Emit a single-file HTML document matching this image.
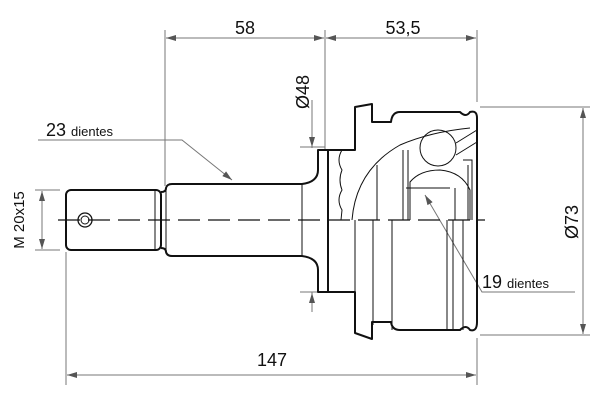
<!DOCTYPE html>
<html><head><meta charset="utf-8"><style>
html,body{margin:0;padding:0;background:#fff;}
svg{display:block;}
text{font-family:"Liberation Sans","DejaVu Sans",sans-serif;fill:#111;}
</style></head><body>
<svg width="600" height="400" viewBox="0 0 600 400" xmlns="http://www.w3.org/2000/svg">
<defs>
<marker id="a" viewBox="0 0 10 6" refX="10" refY="3" markerWidth="12" markerHeight="6" orient="auto-start-reverse" markerUnits="userSpaceOnUse"><path d="M0,0L10,3L0,6z" fill="#555"/></marker>
</defs>
<g stroke="#777" stroke-width="1" fill="none">
<line x1="165" y1="30" x2="165" y2="186"/>
<line x1="325" y1="30" x2="325" y2="150"/>
<line x1="477" y1="30" x2="477" y2="102"/>
<line x1="480" y1="107" x2="590" y2="107"/>
<line x1="480" y1="335" x2="590" y2="335"/>
<line x1="66" y1="252" x2="66" y2="385"/>
<line x1="477" y1="338" x2="477" y2="385"/>
<line x1="312" y1="100" x2="312" y2="148"/>
<line x1="312" y1="292" x2="312" y2="312"/>
<line x1="300" y1="147" x2="325" y2="147"/>
<line x1="300" y1="292" x2="325" y2="292"/>
<line x1="35" y1="190" x2="60" y2="190"/>
<line x1="35" y1="250" x2="60" y2="250"/>
<line x1="166" y1="38" x2="324" y2="38" marker-start="url(#a)" marker-end="url(#a)"/>
<line x1="326" y1="38" x2="476" y2="38" marker-start="url(#a)" marker-end="url(#a)"/>
<line x1="67" y1="375" x2="476" y2="375" marker-start="url(#a)" marker-end="url(#a)"/>
<line x1="583" y1="108" x2="583" y2="334" marker-start="url(#a)" marker-end="url(#a)"/>
<line x1="42" y1="191" x2="42" y2="249" marker-start="url(#a)" marker-end="url(#a)"/>
<line x1="312" y1="128" x2="312" y2="147" marker-end="url(#a)"/>
<line x1="312" y1="312" x2="312" y2="293" marker-end="url(#a)"/>
<polyline points="38,140 182,140 232,180" marker-end="url(#a)"/>
<polyline points="575,292 482,292 425,195" marker-end="url(#a)"/>
</g>
<line x1="58" y1="220" x2="485" y2="220" stroke="#111" stroke-width="1.2" stroke-dasharray="22,8"/>
<g stroke="#111" stroke-width="2" fill="none" stroke-linejoin="round">
<rect x="66" y="190" width="95" height="60" rx="5"/>
<circle cx="85" cy="220" r="7" stroke-width="1.3"/>
<circle cx="85" cy="220" r="4" stroke-width="1"/>
<line x1="155" y1="191" x2="155" y2="249" stroke-width="1"/>
<path d="M161,192 Q166,192 166,188 Q167,184 172,184 L302,184 Q318,182 318,170 L318,150 L328,150 L328,270 M302,256 L172,256 Q167,256 166,252 Q166,248 161,248"/>
<path d="M302,256 Q318,258 318,270 L318,292 L328,292 L328,270"/>
<line x1="302" y1="184" x2="302" y2="256" stroke-width="1"/>
<line x1="166" y1="188" x2="166" y2="252" stroke-width="1"/>
<path d="M328,150 L355,150 L355,107 L372,104 L372,122 L391,122 Q392,112 400,112 L460,112 Q466,118 470,112 Q477,110 477,118 L477,322 Q477,332 470,330 Q466,324 460,330 L400,330 Q392,330 391,322 L372,322 L372,339 L355,333 L355,292 L328,292"/>
</g>
<g stroke="#111" stroke-width="1" fill="none">
<path d="M342,150 Q336,160 342,170 Q338,180 342,190 Q336,200 342,210 L341,220"/>
<line x1="355" y1="220" x2="355" y2="292"/>
<path d="M352,220 Q356,170 400,145 Q430,132 470,128"/>
<path d="M377,220 L377,165 M403,220 L403,150 M408,220 L408,150 M410,220 L410,182 Q420,170 440,170 Q462,172 470,190 L470,220"/>
<path d="M406,188 L450,188 M455,188 L455,220"/>
<circle cx="438" cy="148" r="18"/>
<path d="M456,143 L477,130 M456,155 L477,142 M463,160 L472,160 L472,220 M468,165 L468,220"/>
<path d="M373,220 L373,325 M392,220 L392,330 M447,220 L447,330 M453,220 L453,330 M463,220 L463,330"/>
</g>
<text x="245" y="34" font-size="18" text-anchor="middle">58</text>
<text x="403" y="34" font-size="18" text-anchor="middle">53,5</text>
<text x="272" y="366" font-size="18" text-anchor="middle">147</text>
<text x="46" y="136" font-size="18">23 <tspan font-size="13">dientes</tspan></text>
<text x="482" y="288" font-size="18">19 <tspan font-size="13">dientes</tspan></text>
<text transform="translate(309,92) rotate(-90)" font-size="18" text-anchor="middle">Ø48</text>
<text transform="translate(578,222) rotate(-90)" font-size="18" text-anchor="middle">Ø73</text>
<text transform="translate(24,220) rotate(-90)" font-size="15" text-anchor="middle">M 20x15</text>
</svg>
</body></html>
